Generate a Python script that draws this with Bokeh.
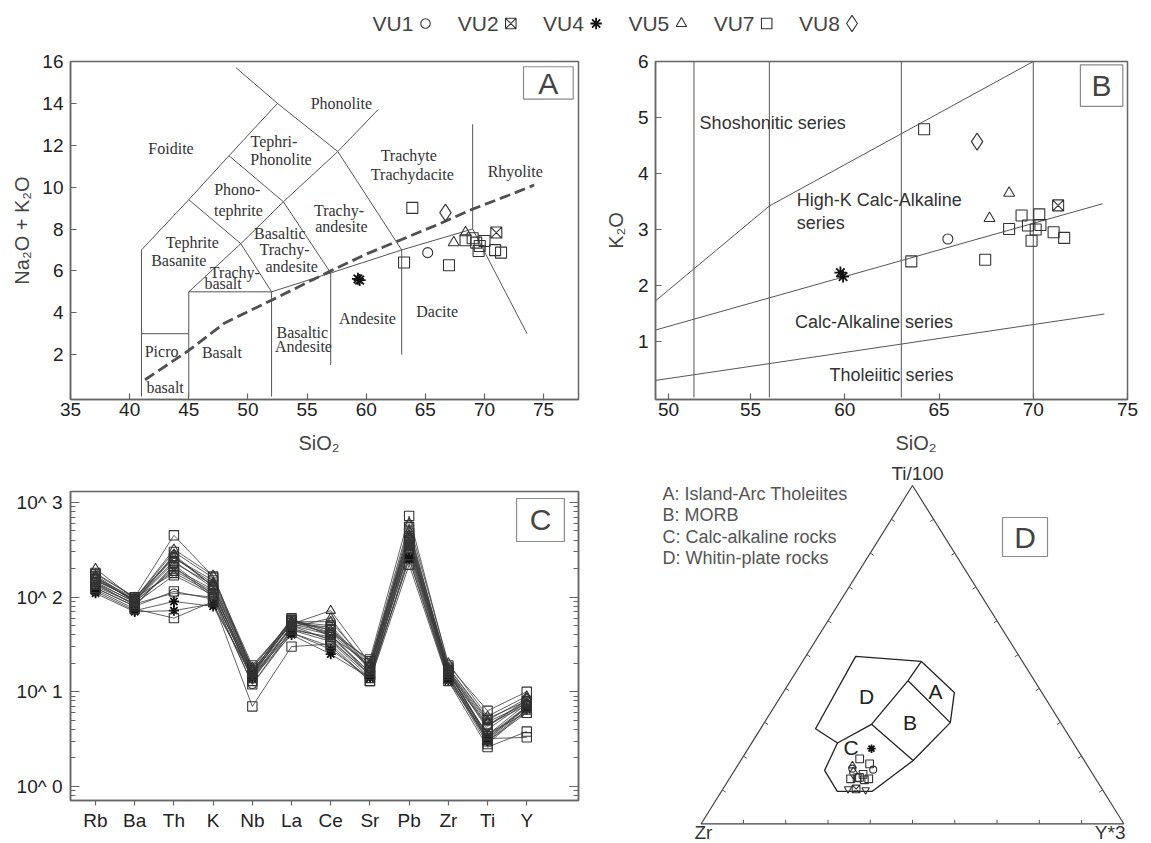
import math
from bokeh.plotting import figure
from bokeh.models import Range1d, FixedTicker, CustomJSTickFormatter, LogAxis, Title
from bokeh.layouts import column, row
from bokeh.embed import file_html
from bokeh.resources import INLINE
from bokeh.core.properties import value

SANS = "Liberation Sans"
SERIF = "Liberation Serif"
FRAME = "#666666"
LINEC = "#555555"

# ---------------- data ----------------
groups = ["VU1", "VU2", "VU4", "VU5", "VU7", "VU8"]
group_marker = {"VU1": "circle", "VU2": "square_x", "VU4": "asterisk",
                "VU5": "triangle", "VU7": "square", "VU8": "diamond"}

# Panel A: TAS (SiO2 vs Na2O+K2O)
tas_sio2 = {
    "VU1": [65.2],
    "VU2": [71.0],
    "VU4": [59.3, 59.45],
    "VU5": [67.4, 68.4],
    "VU7": [63.9, 63.2, 67.0, 68.4, 69.0, 69.3, 69.6, 70.0, 69.5, 70.9, 71.4],
    "VU8": [66.7],
}
tas_alk = {
    "VU1": [6.87],
    "VU2": [7.83],
    "VU4": [5.62, 5.56],
    "VU5": [7.35, 7.83],
    "VU7": [9.01, 6.40, 6.27, 7.46, 7.56, 7.35, 7.19, 7.43, 6.95, 6.99, 6.87],
    "VU8": [8.78],
}
tas_xticks = [35, 40, 45, 50, 55, 60, 65, 70, 75]
tas_yticks = [2, 4, 6, 8, 10, 12, 14, 16]

# Panel B: SiO2 vs K2O
k_sio2 = {
    "VU1": [65.47],
    "VU2": [71.32],
    "VU4": [59.77, 59.91],
    "VU5": [68.72, 67.68],
    "VU7": [64.21, 63.53, 67.45, 68.72, 69.38, 69.72, 69.91, 70.13, 70.32, 70.38, 71.08, 71.64],
    "VU8": [67.02],
}
k_k2o = {
    "VU1": [2.83],
    "VU2": [3.43],
    "VU4": [2.23, 2.16],
    "VU5": [3.65, 3.20],
    "VU7": [4.79, 2.43, 2.46, 3.01, 3.25, 3.07, 2.80, 3.00, 3.27, 3.08, 2.95, 2.85],
    "VU8": [4.57],
}
k_xticks = [50.65, 55, 60, 65, 70, 75]
k_yticks = [1, 2, 3, 4, 5, 6]

# Panel C: spider diagram
spider_elements = ["Rb", "Ba", "Th", "K", "Nb", "La", "Ce", "Sr", "Pb", "Zr", "Ti", "Y"]
spider = {
    "VU1": [[130, 85, 110, 100, 12, 45, 38, 16, 300, 15, 4.3, 8.0],
            [125, 80, 220, 105, 14, 50, 40, 15, 320, 16, 3.5, 7.5]],
    "VU2": [[140, 90, 190, 115, 15, 55, 45, 18, 350, 17, 3.2, 7.0]],
    "VU4": [[110, 70, 72, 85, 14, 40, 25, 14, 250, 14, 3.0, 6.5],
            [115, 72, 90, 80, 15, 42, 28, 14, 260, 13, 3.3, 6.8]],
    "VU5": [[200, 95, 320, 170, 17, 52, 72, 20, 600, 20, 5.5, 9.0],
            [160, 90, 280, 130, 16, 48, 60, 17, 500, 18, 5.0, 8.5],
            [170, 92, 260, 140, 18, 55, 55, 19, 450, 17, 4.8, 7.5]],
    "VU7": [[180, 100, 450, 165, 16, 58, 42, 22, 720, 19, 6.3, 10.0],
            [150, 95, 300, 160, 19, 55, 50, 18, 550, 16, 3.2, 3.3],
            [120, 75, 60, 90, 7, 30, 32, 13, 220, 13, 2.6, 3.8],
            [145, 88, 200, 120, 15, 56, 40, 16, 400, 15, 3.0, 6.0],
            [155, 92, 240, 125, 13, 50, 35, 15, 380, 16, 3.4, 7.0],
            [135, 85, 170, 105, 14, 45, 34, 14, 330, 14, 2.8, 6.5],
            [160, 98, 180, 110, 16, 60, 38, 20, 420, 17, 4.0, 7.8],
            [125, 80, 115, 95, 12, 42, 30, 13, 280, 14, 3.6, 6.0],
            [175, 100, 260, 150, 18, 57, 45, 21, 480, 18, 5.2, 8.0],
            [140, 82, 210, 100, 15, 47, 36, 15, 360, 15, 3.1, 6.8],
            [165, 90, 230, 135, 17, 53, 48, 17, 440, 17, 4.5, 7.2]],
    "VU8": [[150, 95, 270, 130, 16, 52, 42, 18, 400, 16, 4.4, 8.2]],
}
spider_yticks = [1, 10, 100, 1000]

# Panel D: ternary Ti/100 - Zr - Y*3 (fractions)
tern_ti = {
    "VU1": [0.160, 0.163], "VU2": [0.103], "VU4": [0.222], "VU5": [0.172],
    "VU7": [0.192, 0.177, 0.133, 0.136, 0.146, 0.130, 0.133, 0.137],
    "VU8": [0.150],
}
tern_zr = {
    "VU1": [0.513, 0.561], "VU2": [0.582], "VU4": [0.486], "VU5": [0.556],
    "VU7": [0.529, 0.513, 0.580, 0.563, 0.544, 0.549, 0.537, 0.557],
    "VU8": [0.565],
}
tern_y = {
    "VU1": [0.327, 0.276], "VU2": [0.315], "VU4": [0.292], "VU5": [0.272],
    "VU7": [0.279, 0.310, 0.287, 0.301, 0.310, 0.321, 0.330, 0.306],
    "VU8": [0.285],
}
tern_inv_ti = [0.103, 0.100]
tern_inv_zr = [0.601, 0.561]
tern_inv_y = [0.296, 0.339]

# ---------------- diagram frameworks ----------------
tas_lines = [
    [(41, 0), (41, 7), (45, 9.4), (48.4, 11.5), (52.5, 14), (49.0, 15.7)],
    [(41, 3), (45, 3)],
    [(45, 0), (45, 5), (52, 5), (57, 5.9), (63, 7), (69, 8), (73.6, 3.0)],
    [(52, 0), (52, 5)],
    [(57, 1.5), (57, 5.9)],
    [(63, 2), (63, 7)],
    [(69, 8), (69, 13)],
    [(45, 5), (49.4, 7.3), (52, 5)],
    [(45, 9.4), (49.4, 7.3), (53, 9.3), (57, 5.9)],
    [(48.4, 11.5), (53, 9.3), (57.6, 11.7), (63, 7)],
    [(52.5, 14), (57.6, 11.7), (61, 13.7)],
]
alk_curve = [(41.3, 0.8), (45, 2.2), (48, 3.5), (52, 4.6), (57, 6.0), (60, 6.8),
             (63, 7.5), (66, 8.2), (69, 8.95), (72, 9.6), (74.2, 10.1)]
tas_labels = [
    ("Phonolite", 57.9, 14.0), ("Foidite", 43.5, 11.83), ("Tephri-", 52.2, 12.2),
    ("Phonolite", 52.8, 11.3), ("Trachyte", 63.6, 11.5), ("Trachydacite", 63.9, 10.6),
    ("Rhyolite", 72.6, 10.75), ("Phono-", 49.1, 9.9), ("tephrite", 49.2, 8.9),
    ("Trachy-", 57.7, 8.86), ("andesite", 57.9, 8.14), ("Tephrite", 45.3, 7.37),
    ("Basanite", 44.15, 6.5), ("Basaltic", 52.7, 7.77), ("Trachy-", 53.1, 7.02),
    ("andesite", 53.7, 6.2), ("Trachy-", 48.9, 5.93), ("basalt", 47.9, 5.42),
    ("Andesite", 60.1, 3.73), ("Dacite", 66.0, 4.05), ("Basaltic", 54.6, 3.04),
    ("Andesite", 54.7, 2.37), ("Picro", 42.7, 2.16), ("basalt", 43.0, 0.44),
    ("Basalt", 47.8, 2.1),
]
pt_lines = [
    [(52, 0), (52, 6)], [(56, 0), (56, 6)], [(63, 0), (63, 6)], [(70, 0), (70, 6)],
    [(49.87, 1.70), (56, 3.42), (70, 6.0)],
    [(49.87, 1.196), (73.68, 3.46)],
    [(49.87, 0.30), (73.77, 1.49)],
]
pt_labels = [
    ("Shoshonitic series", 52.3, 4.90), ("High-K Calc-Alkaline", 57.45, 3.52),
    ("series", 57.45, 3.12), ("Calc-Alkaline series", 57.36, 1.34),
    ("Tholeiitic series", 59.19, 0.40),
]
# ternary field vertices (Ti, Zr, Y)
tv = {
    1: (0.281, 0.589, 0.130), 2: (0.495, 0.387, 0.118), 3: (0.480, 0.239, 0.281),
    4: (0.423, 0.299, 0.278), 5: (0.294, 0.450, 0.256), 6: (0.239, 0.558, 0.203),
    7: (0.388, 0.207, 0.405), 8: (0.299, 0.261, 0.440), 9: (0.187, 0.405, 0.408),
    10: (0.096, 0.547, 0.357), 11: (0.096, 0.630, 0.274), 12: (0.158, 0.629, 0.213),
}
tern_paths = [[6, 1, 2, 3, 4, 5, 6], [3, 7, 8, 9, 10, 11, 12, 6], [4, 8], [5, 9]]
tern_field_labels = [("D", 0.377, 0.420, 0.203), ("A", 0.391, 0.250, 0.359),
                     ("B", 0.300, 0.356, 0.344), ("C", 0.225, 0.533, 0.242)]
tern_legend = ["A: Island-Arc Tholeiites", "B: MORB", "C: Calc-alkaline rocks",
               "D: Whitin-plate rocks"]

# ---------------- layout constants ----------------
marker_size = {"circle": 10, "square_x": 11, "asterisk": 12, "triangle": 11,
               "square": 11, "diamond": 17, "inverted_triangle": 10}
TRI_ZR_X, TRI_BASE, TRI_BASE_Y, TRI_H = 700.7, 422.6, 823.3, 338.3
ROW1_H = 419
ROW2_TOP = 45 + ROW1_H


def make_fig(w, h, xr, yr, l, r, t, b, **kw):
    p = figure(width=w, height=h, x_range=Range1d(*xr), y_range=Range1d(*yr),
               min_border_left=l, min_border_right=r, min_border_top=t,
               min_border_bottom=b, toolbar_location=None, output_backend="svg", **kw)
    p.grid.visible = False
    p.outline_line_color = FRAME
    p.outline_line_width = 1.5
    p.background_fill_color = "white"
    p.border_fill_color = "white"
    return p


def style_axis(ax, tick_in=6, tick_out=0):
    ax.axis_line_color = FRAME
    ax.axis_line_width = 1.5
    ax.major_tick_line_color = FRAME
    ax.major_tick_line_width = 1.2
    ax.major_tick_in = tick_in
    ax.major_tick_out = tick_out
    ax.minor_tick_line_color = None
    ax.major_label_text_font = SANS
    ax.major_label_text_font_size = "19px"
    ax.major_label_text_color = "#222222"
    ax.axis_label_text_font = SANS
    ax.axis_label_text_font_size = "20px"
    ax.axis_label_text_font_style = "normal"
    ax.axis_label_text_color = "#444444"


def draw_markers(p, xs, ys, marker, scale=1.0):
    if marker == "asterisk":
        p.scatter(xs, ys, marker=marker, size=marker_size[marker] * scale,
                  line_color="#111111", line_width=1.8)
    else:
        p.scatter(xs, ys, marker=marker, size=marker_size[marker] * scale,
                  fill_color=None, line_color="#333333", line_width=1.1)


def tern_xy(ti, zr, yy):
    xs, ys = [], []
    for a, b, c in zip(ti, zr, yy):
        s = a + b + c
        t = a / s
        r = c / s
        xs.append(TRI_ZR_X + (r + t / 2) * TRI_BASE)
        ys.append(TRI_BASE_Y - t * TRI_H)
    return xs, ys


def label_title(text, offset):
    return Title(text=text, align="left", offset=offset, text_font=SANS,
                 text_font_size="20px", text_font_style="normal",
                 text_color="#444444", standoff=22, vertical_align="bottom")

# ---------------- legend strip ----------------
pl = figure(width=1151, height=45, x_range=Range1d(0, 1151), y_range=Range1d(45, 0),
            min_border=0, toolbar_location=None, output_backend="svg",
            x_axis_location=None, y_axis_location=None)
pl.grid.visible = False
pl.outline_line_color = None
LEG_X0, LEG_DX, LEG_SYM, LEG_Y = 372, 85.3, 53, 23
for i, g in enumerate(groups):
    tx = LEG_X0 + i * LEG_DX
    pl.text([tx], [LEG_Y], text=[g], text_font=value(SANS), text_font_size="21px",
            text_color="#444444", text_align="left", text_baseline="middle")
    draw_markers(pl, [tx + LEG_SYM], [LEG_Y], group_marker[g], 0.95)

# ---------------- panel A ----------------
pa = make_fig(600, ROW1_H, (35, 77.95), (-0.143, 16.0), 69, 13, 16, ROW1_H - 16 - 338)
for ax in pa.axis:
    style_axis(ax)
pa.xaxis.ticker = FixedTicker(ticks=tas_xticks)
pa.yaxis.ticker = FixedTicker(ticks=tas_yticks)
pa.yaxis.axis_label = "Na₂O + K₂O"
pa.yaxis.major_label_standoff = 7
pa.yaxis.axis_label_standoff = 6
pa.xaxis.major_label_standoff = 3
pa.add_layout(label_title("SiO₂", 228), "below")
for seg in tas_lines:
    xs, ys = zip(*seg)
    pa.line(list(xs), list(ys), line_color=LINEC, line_width=1)
cx, cy = zip(*alk_curve)
pa.line(list(cx), list(cy), line_color="#505050", line_width=2.8, line_dash="11 5")
pa.text([t[1] for t in tas_labels], [t[2] for t in tas_labels], text=[t[0] for t in tas_labels],
        text_font=value(SERIF), text_font_size="16px", text_color="#333333",
        text_align="center", text_baseline="middle")
pa.quad(left=[73.3], right=[77.5], bottom=[14.2], top=[15.75], fill_color=None,
        line_color="#8a8a8a", line_width=1.2)
pa.text([75.4], [14.97], text=["A"], text_font=value(SANS), text_font_size="30px",
        text_color="#444444", text_align="center", text_baseline="middle")
for g in groups:
    draw_markers(pa, tas_sio2[g], tas_alk[g], group_marker[g])

# ---------------- panel B ----------------
pb = make_fig(551, ROW1_H, (49.96, 75.0), (-0.036, 6), 55, 24, 16, ROW1_H - 16 - 338)
for ax in pb.axis:
    style_axis(ax)
pb.xaxis.ticker = FixedTicker(ticks=k_xticks)
pb.xaxis.formatter = CustomJSTickFormatter(code="return String(Math.round(tick / 5) * 5);")
pb.yaxis.ticker = FixedTicker(ticks=k_yticks)
pb.yaxis.axis_label = "K₂O"
pb.yaxis.major_label_standoff = 7
pb.yaxis.axis_label_standoff = 8
pb.xaxis.major_label_standoff = 3
pb.add_layout(label_title("SiO₂", 240), "below")
for seg in pt_lines:
    xs, ys = zip(*seg)
    pb.line(list(xs), list(ys), line_color=LINEC, line_width=1)
pb.text([t[1] for t in pt_labels], [t[2] for t in pt_labels], text=[t[0] for t in pt_labels],
        text_font=value(SANS), text_font_size="18px", text_color="#333333",
        text_align="left", text_baseline="middle")
pb.quad(left=[72.5], right=[74.75], bottom=[5.2], top=[5.94], fill_color=None,
        line_color="#8a8a8a", line_width=1.2)
pb.text([73.62], [5.57], text=["B"], text_font=value(SANS), text_font_size="30px",
        text_color="#444444", text_align="center", text_baseline="middle")
for g in groups:
    draw_markers(pb, k_sio2[g], k_k2o[g], group_marker[g])

# ---------------- panel C ----------------
ROW2_H = 843 - ROW2_TOP
pc = make_fig(600, ROW2_H, (-0.638, 12.32), (0.71, 1306), 70, 22, 491 - ROW2_TOP, 43,
              y_axis_type="log")
minor = [m * 10 ** e for e in range(-1, 4) for m in range(2, 10)]
for ax in pc.axis:
    style_axis(ax)
pc.yaxis.ticker = FixedTicker(ticks=spider_yticks, minor_ticks=minor)
pc.yaxis.formatter = CustomJSTickFormatter(code="return '10^ ' + Math.round(Math.log10(tick));")
pc.yaxis.major_tick_in = 9
pc.yaxis.minor_tick_in = 5
pc.yaxis.minor_tick_out = 0
pc.yaxis.minor_tick_line_color = FRAME
pc.yaxis.major_label_standoff = 8
right_ax = LogAxis(ticker=FixedTicker(ticks=spider_yticks, minor_ticks=minor))
style_axis(right_ax, tick_in=9)
right_ax.minor_tick_in = 5
right_ax.minor_tick_out = 0
right_ax.minor_tick_line_color = FRAME
right_ax.major_label_text_font_size = "10px"
right_ax.major_label_text_alpha = 0.0
right_ax.major_label_standoff = 0
pc.add_layout(right_ax, "right")
pc.xaxis.ticker = FixedTicker(ticks=list(range(len(spider_elements))))
pc.xaxis.formatter = CustomJSTickFormatter(args=dict(names=spider_elements),
                                           code="return names[Math.round(tick)] || '';")
pc.xaxis.major_tick_in = 0
pc.xaxis.major_tick_out = 5
pc.xaxis.major_label_standoff = 4
xs_el = list(range(len(spider_elements)))
for g in groups:
    for rowv in spider[g]:
        pc.line(xs_el, rowv, line_color="#3a3a3a", line_width=0.8)
for g in groups:
    for rowv in spider[g]:
        draw_markers(pc, xs_el, rowv, group_marker[g], 0.85)
pc.quad(left=[10.74], right=[11.96], bottom=[387], top=[1102], fill_color=None,
        line_color="#8a8a8a", line_width=1.2)
pc.text([11.35], [653], text=["C"], text_font=value(SANS), text_font_size="30px",
        text_color="#444444", text_align="center", text_baseline="middle")

# ---------------- panel D ----------------
pd = figure(width=551, height=ROW2_H, x_range=Range1d(655, 1127), y_range=Range1d(843, ROW2_TOP),
            min_border_left=55, min_border_right=24, min_border_top=0, min_border_bottom=0,
            toolbar_location=None, output_backend="svg",
            x_axis_location=None, y_axis_location=None)
pd.grid.visible = False
pd.outline_line_color = None
corner_ti = [1.0, 0.0, 0.0, 1.0]
corner_zr = [0.0, 1.0, 0.0, 0.0]
corner_y = [0.0, 0.0, 1.0, 0.0]
tx, ty = tern_xy(corner_ti, corner_zr, corner_y)
pd.line(tx, ty, line_color="#444444", line_width=1.2)
# side ticks every 10 %
gx, gy = sum(tx[:3]) / 3, sum(ty[:3]) / 3
x0s, y0s, x1s, y1s = [], [], [], []
for a, b in [(0, 1), (1, 2), (2, 0)]:
    for k in range(1, 10):
        px = tx[a] + (tx[b] - tx[a]) * k / 10
        py = ty[a] + (ty[b] - ty[a]) * k / 10
        dx, dy = tx[b] - tx[a], ty[b] - ty[a]
        ln = math.hypot(dx, dy)
        nx, ny = -dy / ln, dx / ln
        if (gx - px) * nx + (gy - py) * ny < 0:
            nx, ny = -nx, -ny
        x0s.append(px); y0s.append(py)
        x1s.append(px + nx * 4); y1s.append(py + ny * 4)
pd.segment(x0s, y0s, x1s, y1s, line_color="#555555", line_width=1)
for path in tern_paths:
    fx, fy = tern_xy([tv[v][0] for v in path], [tv[v][1] for v in path], [tv[v][2] for v in path])
    pd.line(fx, fy, line_color="#222222", line_width=1.3)
lx, ly = tern_xy([t[1] for t in tern_field_labels], [t[2] for t in tern_field_labels],
                 [t[3] for t in tern_field_labels])
pd.text(lx, ly, text=[t[0] for t in tern_field_labels], text_font=value(SANS),
        text_font_size="21px", text_color="#222222", text_align="center", text_baseline="middle")
pd.text([917], [473], text=["Ti/100"], text_font=value(SANS),
        text_font_size="19px", text_color="#333333", text_align="center", text_baseline="middle")
pd.text([694], [832], text=["Zr"], text_font=value(SANS),
        text_font_size="19px", text_color="#333333", text_align="left", text_baseline="middle")
pd.text([1125], [832], text=["Y*3"], text_font=value(SANS),
        text_font_size="19px", text_color="#333333", text_align="right", text_baseline="middle")
pd.text([662] * 4, [493, 514.5, 536, 557], text=tern_legend, text_font=value(SANS),
        text_font_size="18px", text_color="#555555", text_align="left", text_baseline="middle")
pd.quad(left=[1002], right=[1047], bottom=[556], top=[517], fill_color=None,
        line_color="#8a8a8a", line_width=1.2)
pd.text([1024.5], [537], text=["D"], text_font=value(SANS), text_font_size="30px",
        text_color="#444444", text_align="center", text_baseline="middle")
for g in groups:
    px, py = tern_xy(tern_ti[g], tern_zr[g], tern_y[g])
    draw_markers(pd, px, py, group_marker[g], 0.7)
px, py = tern_xy(tern_inv_ti, tern_inv_zr, tern_inv_y)
draw_markers(pd, px, py, "inverted_triangle", 0.75)

layout = column(pl, row(column(pa, pc), column(pb, pd)))
open("out.html", "w").write(file_html(layout, INLINE))
